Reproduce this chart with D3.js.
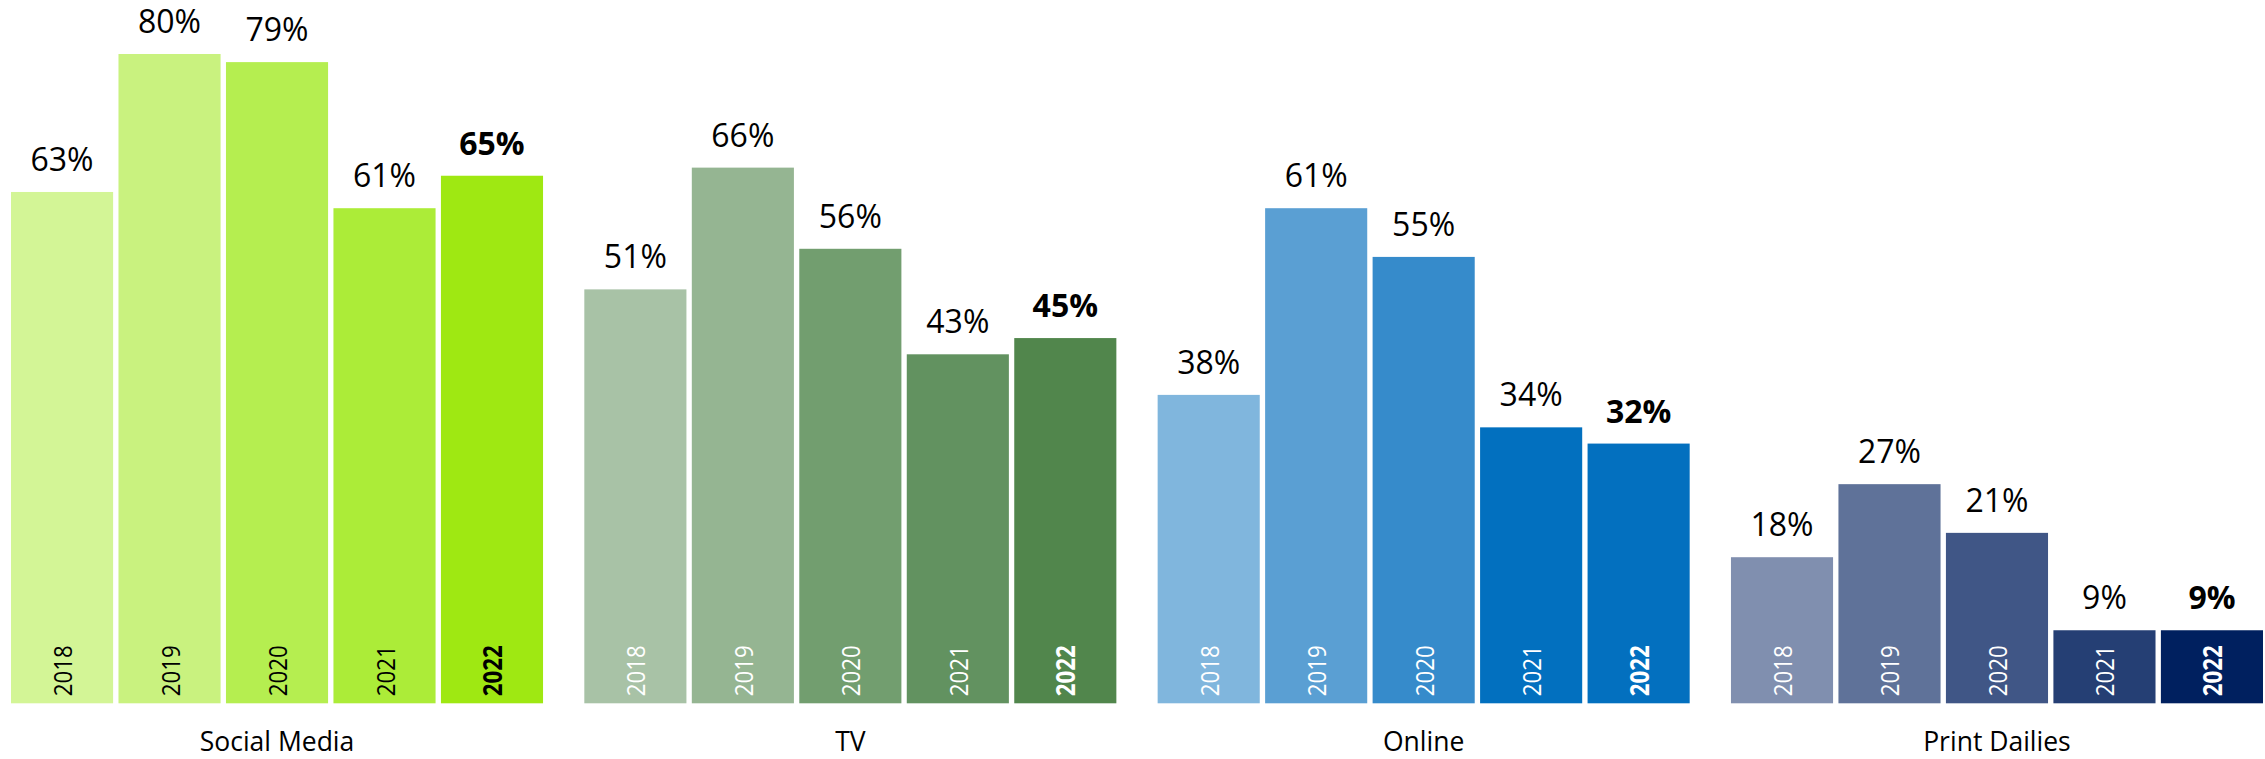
<!DOCTYPE html>
<html>
<head>
<meta charset="utf-8">
<script src="https://cdn.jsdelivr.net/npm/d3@7"></script>
<style>
  html, body { margin: 0; padding: 0; background: #ffffff; }
  svg { display: block; }
</style>
</head>
<body>
<svg id="chart" width="2265" height="759"></svg>
<script>
// ---- Data ----
const groups = ["Social Media", "TV", "Online", "Print Dailies"];
const years = ["2018", "2019", "2020", "2021", "2022"];
const socialMedia = [63, 80, 79, 61, 65];
const tv = [51, 66, 56, 43, 45];
const online = [38, 61, 55, 34, 32];
const printDailies = [18, 27, 21, 9, 9];

const socialColors = ["#d3f596", "#c9f27f", "#b5ee50", "#acec38", "#9fe812"];
const tvColors = ["#a8c2a6", "#95b592", "#729e6f", "#629260", "#51864c"];
const onlineColors = ["#80b6dd", "#5a9fd3", "#368bcb", "#0270bf", "#0370bf"];
const printColors = ["#808faf", "#5f7299", "#405686", "#253f74", "#00205f"];

const seriesValues = [socialMedia, tv, online, printDailies];
const seriesColors = [socialColors, tvColors, onlineColors, printColors];
const yearLabelColors = ["#000000", "#ffffff", "#ffffff", "#ffffff"];
const highlightYear = "2022";

// ---- Layout ----
const svg = d3.select("#chart");
const left = 11, right = 2263, bottom = 703.3;

const x0 = d3.scaleBand().domain(groups).range([left, right]).paddingInner(0.072).paddingOuter(0);
const x1 = d3.scaleBand().domain(years).range([0, x0.bandwidth()]).paddingInner(0.05).paddingOuter(0);
const y = d3.scaleLinear().domain([0, 80]).range([bottom, 54]);

const data = [];
groups.forEach((g, gi) => {
  years.forEach((yr, yi) => {
    data.push({ group: g, gi, year: yr, value: seriesValues[gi][yi], color: seriesColors[gi][yi] });
  });
});

const font = "'Open Sans', 'Noto Sans', sans-serif";

const gGroups = svg.selectAll("g.group")
  .data(groups)
  .join("g")
  .attr("class", "group")
  .attr("transform", d => `translate(${x0(d)},0)`);

gGroups.selectAll("rect")
  .data((g, gi) => data.filter(d => d.gi === gi))
  .join("rect")
  .attr("x", d => x1(d.year))
  .attr("y", d => y(d.value))
  .attr("width", x1.bandwidth())
  .attr("height", d => y(0) - y(d.value))
  .attr("fill", d => d.color);

// value labels
gGroups.selectAll("text.value")
  .data((g, gi) => data.filter(d => d.gi === gi))
  .join("text")
  .attr("class", "value")
  .attr("x", d => x1(d.year) + x1.bandwidth() / 2)
  .attr("y", d => y(d.value) - 21)
  .attr("text-anchor", "middle")
  .attr("font-family", font)
  .attr("font-size", 32)
  .attr("font-weight", d => d.year === highlightYear ? 700 : 400)
  .attr("fill", "#000")
  .text(d => d.value + "%");

// year labels (rotated, inside bars)
gGroups.selectAll("text.year")
  .data((g, gi) => data.filter(d => d.gi === gi))
  .join("text")
  .attr("class", "year")
  .attr("transform", d => `translate(${x1(d.year) + x1.bandwidth() / 2},${bottom - 7}) rotate(-90)`)
  .attr("dominant-baseline", "central")
  .attr("text-anchor", "start")
  .attr("font-family", font)
  .attr("font-size", 26)
  .attr("font-weight", d => d.year === highlightYear ? 700 : 400)
  .attr("textLength", 51)
  .attr("lengthAdjust", "spacingAndGlyphs")
  .attr("fill", d => yearLabelColors[d.gi])
  .text(d => d.year);

// category labels
gGroups.append("text")
  .attr("x", x0.bandwidth() / 2)
  .attr("y", 751)
  .attr("text-anchor", "middle")
  .attr("font-family", font)
  .attr("font-size", 26.5)
  .attr("fill", "#000")
  .text(d => d);
</script>
</body>
</html>
